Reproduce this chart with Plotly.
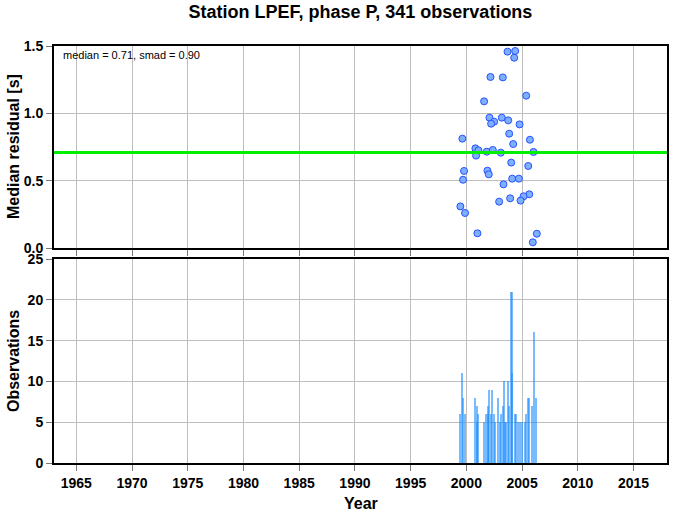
import plotly.graph_objects as go
from plotly.subplots import make_subplots

# ---- data ----
res_years = [2003.69, 2004.38, 2004.29, 2002.16, 2003.27, 2005.37, 2001.59, 2002.07,
             2003.18, 2003.75, 2002.49, 2002.22, 2004.77, 1999.64, 2003.84, 2005.70,
             2004.20, 2000.81, 2001.08, 2001.83, 2002.37, 2003.09, 2000.87, 2006.02,
             2004.02, 2005.55, 1999.79, 2001.89, 2002.01, 1999.70, 2003.33, 2004.11,
             2004.71, 2005.64, 2005.13, 2003.93, 2004.86, 2002.94, 1999.46, 1999.88,
             2000.99, 2006.32, 2005.96]
res_values = [1.458, 1.463, 1.413, 1.270, 1.267, 1.131, 1.089, 0.968,
              0.968, 0.948, 0.938, 0.923, 0.918, 0.812, 0.849, 0.804,
              0.772, 0.740, 0.725, 0.715, 0.728, 0.708, 0.686, 0.713,
              0.634, 0.609, 0.572, 0.574, 0.547, 0.507, 0.473, 0.515,
              0.515, 0.399, 0.384, 0.369, 0.352, 0.344, 0.309, 0.260,
              0.109, 0.106, 0.042]

obs_years = [1999.42, 1999.60, 1999.73, 1999.87,
             2000.81, 2000.94, 2001.00, 2001.08,
             2001.62, 2001.75, 2001.93, 2002.00, 2002.07, 2002.20, 2002.34, 2002.47,
             2002.61, 2002.88, 2003.06, 2003.15, 2003.28, 2003.42, 2003.50, 2003.60,
             2003.73, 2003.87, 2004.01, 2004.10, 2004.14, 2004.36, 2004.50, 2004.68,
             2004.86, 2005.04, 2005.26, 2005.40, 2005.53, 2005.67, 2005.94, 2006.07,
             2006.29]
obs_counts = [6, 11, 8, 6,
              8, 7, 5, 6,
              5, 6, 7, 6, 9, 6, 9, 6,
              5, 8, 5, 6, 7, 10, 5, 5,
              10, 7, 21, 11, 21, 6, 6, 5,
              5, 5, 5, 6, 8, 8, 7, 16,
              8]

median = 0.71
smad = 0.90
station = "LPEF"
phase = "P"
n_obs = 341

year_ticks = [1965, 1970, 1975, 1980, 1985, 1990, 1995, 2000, 2005, 2010, 2015]
x_range = [1963, 2018]

# ---- figure ----
W, H = 673, 511
L, R, T, B = 54, 6, 46, 48
ph = H - T - B
pw = W - L - R
top_dom = [(463 - 248) / ph, 1.0]
bot_dom = [0.0, (463 - 259) / ph]

fig = make_subplots(rows=2, cols=1, shared_xaxes=False)

fig.add_trace(go.Scatter(
    x=res_years, y=res_values, mode="markers",
    marker=dict(size=7, color="rgb(125,175,255)",
                line=dict(color="rgb(40,80,255)", width=1)),
    showlegend=False, cliponaxis=False), row=1, col=1)

fig.add_hline(y=median, line=dict(color="rgb(0,238,0)", width=3), row=1, col=1)

fig.add_trace(go.Bar(
    x=obs_years, y=obs_counts, width=0.13,
    marker=dict(color="rgb(30,144,255)", opacity=0.6, line=dict(width=0)),
    showlegend=False), row=2, col=1)

font_family = "Liberation Sans, Arial, Helvetica, sans-serif"
tickfont = dict(family=font_family, size=14, color="black", weight="bold")
titlefont = dict(family=font_family, size=16, color="black", weight="bold")

common_x = dict(range=x_range, tickmode="array", tickvals=year_ticks,
                showgrid=True, gridcolor="rgb(190,190,190)", gridwidth=1,
                showline=True, linecolor="black", linewidth=2, mirror=True,
                ticks="outside", ticklen=6, tickcolor="rgb(120,120,120)",
                tickfont=tickfont, zeroline=False, automargin=False)
common_y = dict(showgrid=True, gridcolor="rgb(190,190,190)", gridwidth=1,
                showline=True, linecolor="black", linewidth=2, mirror=True,
                ticks="outside", ticklen=6, tickcolor="rgb(120,120,120)",
                tickfont=tickfont, zeroline=False, automargin=False)

fig.update_layout(
    width=W, height=H,
    margin=dict(l=L, r=R, t=T, b=B, autoexpand=False),
    paper_bgcolor="white", plot_bgcolor="white",
    barmode="overlay", bargap=0,
    title=dict(text=f"Station {station}, phase {phase}, {n_obs} observations",
               x=0.5, xanchor="center", xref="paper",
               y=1 - 12 / H, yref="container", yanchor="middle",
               font=dict(family=font_family, size=18, color="black", weight="bold")),
    xaxis=dict(domain=[0, 1], anchor="y", showticklabels=False, **common_x),
    xaxis2=dict(domain=[0, 1], anchor="y2", showticklabels=True, **common_x),
    yaxis=dict(domain=top_dom, anchor="x", range=[0, 1.5], tickmode="array",
               tickvals=[0, 0.5, 1.0, 1.5], ticktext=["0.0", "0.5", "1.0", "1.5"],
               **common_y),
    yaxis2=dict(domain=bot_dom, anchor="x2", range=[0, 25], tickmode="array",
                tickvals=[0, 5, 10, 15, 20, 25], **common_y),
)

# axis titles as annotations placed in pixel-equivalent paper coords
fig.add_annotation(text="Year", xref="paper", yref="paper",
                   x=0.5, y=(463 - 503) / ph, xanchor="center", yanchor="middle",
                   showarrow=False, font=titlefont)
fig.add_annotation(text="Median residual [s]", xref="paper", yref="paper",
                   x=(13 - L) / pw, y=(463 - 147) / ph, xanchor="center", yanchor="middle",
                   textangle=-90, showarrow=False, font=titlefont)
fig.add_annotation(text="Observations", xref="paper", yref="paper",
                   x=(13 - L) / pw, y=(463 - 361) / ph, xanchor="center", yanchor="middle",
                   textangle=-90, showarrow=False, font=titlefont)

fig.add_annotation(
    text=f"median = {median:.2f}, smad = {smad:.2f}",
    xref="x domain", yref="y domain", x=0.011, y=0.995,
    xanchor="left", yanchor="top", showarrow=False,
    font=dict(family=font_family, size=11, color="black"))

fig.write_html("out.html", config={"displayModeBar": False},
               post_script="document.body.style.margin='0';")
